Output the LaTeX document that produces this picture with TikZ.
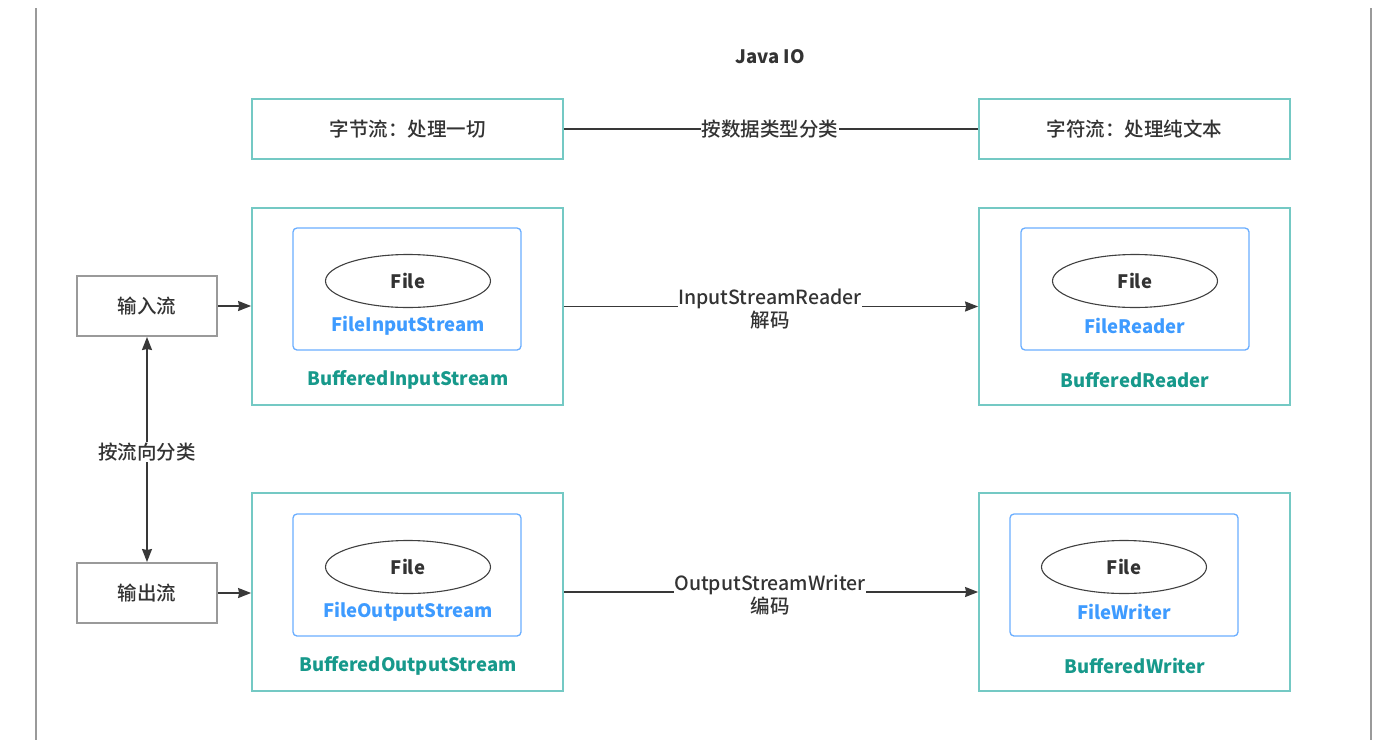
\documentclass[tikz,border=0pt]{standalone}
\usepackage{fontspec}
\setmainfont{Noto Sans CJK SC}
\newfontfamily\medfont{Noto Sans CJK SC Medium}
\usetikzlibrary{shapes.geometric,arrows.meta}
\definecolor{teal1}{HTML}{74C9C4}
\definecolor{tealtxt}{HTML}{17998B}
\definecolor{blueb}{HTML}{6AAEFF}
\definecolor{bluetxt}{HTML}{3E9BFF}
\definecolor{grayb}{HTML}{9A9A9A}
\definecolor{txt}{HTML}{333333}
\begin{document}
\begin{tikzpicture}[x=1pt,y=-1pt,
  every node/.style={text=txt},
  tealbox/.style={draw=teal1,line width=1.8pt,rectangle,inner sep=0pt},
  bluebox/.style={draw=blueb,line width=1.3pt,rounded corners=4pt,rectangle,inner sep=0pt,minimum width=228pt,minimum height=122pt},
  filell/.style={draw=black!75,line width=1.1pt,ellipse,inner sep=0pt,minimum width=165pt,minimum height=53pt,font=\fontsize{18.5}{20}\selectfont\bfseries},
  graybox/.style={draw=grayb,line width=2pt,rectangle,inner sep=0pt,minimum width=140pt,minimum height=60pt,font=\medfont\fontsize{19.5}{20}\selectfont},
  bluelbl/.style={text=bluetxt,font=\fontsize{18.5}{20}\selectfont\bfseries},
  greenlbl/.style={text=tealtxt,font=\fontsize{18.5}{20}\selectfont\bfseries},
  conn/.style={draw=black!78,line width=1.4pt},
  arr/.style={conn,-{Stealth[length=13pt,width=10pt,inset=1pt]}},
  lbl/.style={fill=white,inner sep=1pt,font=\medfont\fontsize{19.5}{23}\selectfont,align=center}
]
\useasboundingbox (0,0) rectangle (1395,750);
\fill[white] (0,0) rectangle (1395,750);
% frame lines
\draw[grayb,line width=2pt] (36,8) -- (36,740);
\draw[grayb,line width=2pt] (1371,8) -- (1371,740);

\node[font=\fontsize{18.5}{20}\selectfont\bfseries] (title) at (770,57) {Java IO};

\node[tealbox,minimum width=311pt,minimum height=60pt,font=\medfont\fontsize{19.5}{20}\selectfont] (byte) at (407.5,129) {字节流：处理一切};
\node[tealbox,minimum width=311pt,minimum height=60pt,font=\medfont\fontsize{19.5}{20}\selectfont] (char) at (1134.5,129) {字符流：处理纯文本};
\draw[conn] (byte.east) -- (char.west);
\node[lbl] (bytype) at (770,129) {按数据类型分类};

% big boxes
\node[tealbox,minimum width=311pt,minimum height=197pt] (bin) at (407.5,306.5) {};
\node[tealbox,minimum width=311pt,minimum height=197pt] (brd) at (1134.5,306.5) {};
\node[tealbox,minimum width=311pt,minimum height=198pt] (bout) at (407.5,592) {};
\node[tealbox,minimum width=311pt,minimum height=198pt] (bwr) at (1134.5,592) {};

% inner boxes
\node[bluebox] (fis) at (407,289) {};
\node[bluebox] (fr) at (1135,289) {};
\node[bluebox] (fos) at (407,575) {};
\node[bluebox] (fw) at (1124,575) {};

\node[filell] (e1) at (408,281) {File};
\node[filell] (e2) at (1135,281) {File};
\node[filell] (e3) at (408,567) {File};
\node[filell] (e4) at (1124,567) {File};

\node[bluelbl] (l1) at (408,326) {FileInputStream};
\node[bluelbl] (l2) at (1135,326) {FileReader};
\node[bluelbl] (l3) at (408,612) {FileOutputStream};
\node[bluelbl] (l4) at (1124,612) {FileWriter};

\node[greenlbl] (g1) at (408,380) {BufferedInputStream};
\node[greenlbl] (g2) at (1135,380) {BufferedReader};
\node[greenlbl] (g3) at (408,666) {BufferedOutputStream};
\node[greenlbl] (g4) at (1135,666) {BufferedWriter};

% gray boxes
\node[graybox] (in) at (147,306) {输入流};
\node[graybox] (out) at (147,593) {输出流};

\draw[arr] (in.east) -- (in.east -| bin.west);
\draw[arr] (out.east) -- (out.east -| bout.west);
\draw[conn,{Stealth[length=13pt,width=10pt,inset=1pt]}-{Stealth[length=13pt,width=10pt,inset=1pt]}] (in.south) -- (out.north);
\node[lbl] (dir) at (147,452) {按流向分类};

\draw[arr] (bin.east) -- (brd.west);
\node[lbl,inner sep=0pt] (isr) at (770,309) {InputStreamReader\\解码};
\draw[arr] (bout.east) -- (bwr.west);
\node[lbl,inner sep=0pt] (osw) at (770,595) {OutputStreamWriter\\编码};
\end{tikzpicture}
\end{document}
